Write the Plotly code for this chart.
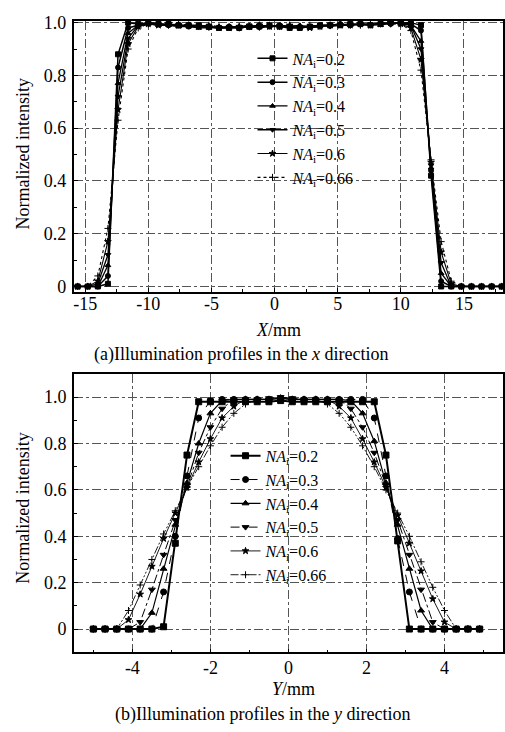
import plotly.graph_objects as go

# ---------------- data ----------------
NA_LABELS = ["0.2", "0.3", "0.4", "0.5", "0.6", "0.66"]

# (a) x direction
X_MM = [-15.6, -14.8, -14.0, -13.2, -12.4, -11.6, -10.8, -10.0, -9.2, -8.4, -7.6, -6.8,
        -6.0, -5.2, -4.4, -3.6, -2.8, -2.0, -1.2, -0.4, 0.4, 1.2, 2.0, 2.8, 3.6, 4.4,
        5.2, 6.0, 6.8, 7.6, 8.4, 9.2, 10.0, 10.8, 11.6, 12.4, 13.2, 14.0, 14.8, 15.6,
        16.4, 17.2, 18.0]

X_NA02 = [0, 0, 0, 0.01, 0.88, 1.0, 0.995, 1.0, 0.995, 0.995, 0.99, 0.99, 0.99, 0.985,
          0.98, 0.98, 0.98, 0.985, 0.985, 0.99, 0.985, 0.98, 0.98, 0.985, 0.99, 0.99,
          0.99, 0.995, 0.995, 0.99, 0.995, 1.0, 1.0, 1.0, 0.99, 0.42, 0.0, 0, 0, 0, 0, 0, 0]
X_NA03 = [0, 0, 0, 0.04, 0.83, 0.98, 0.99, 1.0, 0.995, 0.99, 0.99, 0.985, 0.99, 0.985,
          0.98, 0.985, 0.98, 0.985, 0.99, 0.985, 0.99, 0.985, 0.98, 0.985, 0.99, 0.99,
          0.995, 0.99, 0.995, 0.99, 1.0, 0.995, 1.0, 0.995, 0.97, 0.44, 0.02, 0, 0, 0, 0, 0, 0]
X_NA04 = [0, 0, 0, 0.08, 0.77, 0.96, 0.99, 0.995, 0.99, 0.99, 0.985, 0.985, 0.98, 0.98,
          0.985, 0.98, 0.985, 0.98, 0.985, 0.99, 0.985, 0.985, 0.99, 0.98, 0.985, 0.99,
          0.99, 0.99, 0.995, 0.995, 0.99, 1.0, 0.995, 0.99, 0.93, 0.45, 0.05, 0, 0, 0, 0, 0, 0]
X_NA05 = [0, 0, 0.01, 0.12, 0.72, 0.94, 0.99, 0.995, 0.995, 0.99, 0.99, 0.985, 0.985, 0.98,
          0.98, 0.985, 0.985, 0.99, 0.98, 0.985, 0.99, 0.98, 0.985, 0.985, 0.99, 0.985,
          0.99, 0.995, 0.99, 0.995, 0.995, 0.995, 1.0, 0.99, 0.90, 0.46, 0.09, 0.0, 0, 0, 0, 0, 0]
X_NA06 = [0, 0, 0.02, 0.17, 0.67, 0.92, 0.985, 0.995, 0.99, 0.995, 0.99, 0.99, 0.985, 0.985,
          0.98, 0.98, 0.985, 0.985, 0.99, 0.985, 0.985, 0.99, 0.985, 0.98, 0.985, 0.99,
          0.99, 0.99, 0.995, 0.99, 0.995, 1.0, 0.995, 0.98, 0.86, 0.47, 0.13, 0.01, 0, 0, 0, 0, 0]
X_NA066 = [0, 0, 0.04, 0.22, 0.63, 0.90, 0.98, 0.995, 0.995, 0.99, 0.995, 0.99, 0.985, 0.99,
           0.985, 0.985, 0.98, 0.985, 0.985, 0.99, 0.985, 0.985, 0.985, 0.99, 0.985, 0.99,
           0.995, 0.99, 0.99, 0.995, 0.995, 0.995, 0.995, 0.97, 0.82, 0.48, 0.17, 0.02, 0, 0, 0, 0, 0]

# (b) y direction
Y_MM = [-5.0, -4.7, -4.4, -4.1, -3.8, -3.5, -3.2, -2.9, -2.6, -2.3, -2.0, -1.7, -1.4, -1.1,
        -0.8, -0.5, -0.2, 0.1, 0.4, 0.7, 1.0, 1.3, 1.6, 1.9, 2.2, 2.5, 2.8, 3.1, 3.4, 3.7,
        4.0, 4.3, 4.6, 4.9]

Y_NA02 = [0, 0, 0, 0, 0, 0, 0.01, 0.37, 0.75, 0.98, 0.98, 0.98, 0.98, 0.98, 0.98, 0.98,
          0.985, 0.98, 0.98, 0.98, 0.98, 0.98, 0.98, 0.98, 0.98, 0.75, 0.38, 0.0, 0, 0, 0, 0, 0, 0]
Y_NA03 = [0, 0, 0, 0, 0, 0.0, 0.16, 0.40, 0.66, 0.91, 0.985, 0.99, 0.99, 0.99, 0.99, 0.99,
          0.995, 0.99, 0.99, 0.99, 0.99, 0.99, 0.99, 0.99, 0.91, 0.66, 0.39, 0.16, 0.0, 0, 0, 0, 0, 0]
Y_NA04 = [0, 0, 0, 0, 0.0, 0.07, 0.26, 0.45, 0.63, 0.80, 0.93, 0.985, 0.99, 0.99, 0.99, 0.99,
          0.995, 0.99, 0.99, 0.99, 0.99, 0.99, 0.985, 0.93, 0.81, 0.63, 0.45, 0.26, 0.08, 0.0, 0, 0, 0, 0]
Y_NA05 = [0, 0, 0, 0.0, 0.03, 0.17, 0.32, 0.47, 0.62, 0.76, 0.87, 0.95, 0.99, 0.99, 0.99, 0.995,
          1.0, 0.995, 0.99, 0.99, 0.99, 0.99, 0.95, 0.87, 0.76, 0.62, 0.47, 0.32, 0.17, 0.03, 0.0, 0, 0, 0]
Y_NA06 = [0, 0, 0.0, 0.04, 0.15, 0.27, 0.39, 0.50, 0.61, 0.72, 0.82, 0.91, 0.96, 0.99, 0.99, 0.99,
          0.995, 0.99, 0.99, 0.99, 0.99, 0.96, 0.91, 0.82, 0.72, 0.61, 0.49, 0.37, 0.25, 0.13, 0.03, 0.0, 0, 0]
Y_NA066 = [0, 0, 0.0, 0.08, 0.19, 0.30, 0.41, 0.51, 0.61, 0.70, 0.79, 0.87, 0.93, 0.97, 0.99, 0.99,
           0.995, 0.99, 0.99, 0.99, 0.97, 0.93, 0.87, 0.79, 0.70, 0.60, 0.50, 0.40, 0.29, 0.18, 0.08, 0.0, 0, 0]

X_TICKS_A = [-15, -10, -5, 0, 5, 10, 15]
X_TICKTEXT_A = ["-15", "-10", "-5", "0", "5", "10", "15"]
X_TICKS_B = [-4, -2, 0, 2, 4]
X_TICKTEXT_B = ["-4", "-2", "0", "2", "4"]
Y_TICKS = [0, 0.2, 0.4, 0.6, 0.8, 1.0]
Y_TICKTEXT = ["0", "0.2", "0.4", "0.6", "0.8", "1.0"]

# ---------------- styles ----------------
FONT = "Liberation Serif"
W, H = 505, 732

series_a = [X_NA02, X_NA03, X_NA04, X_NA05, X_NA06, X_NA066]
series_b = [Y_NA02, Y_NA03, Y_NA04, Y_NA05, Y_NA06, Y_NA066]

style_a = [
    dict(dash="solid", width=1.5, symbol="square", size=5),
    dict(dash="solid", width=1.5, symbol="circle", size=5),
    dict(dash="solid", width=1.3, symbol="triangle-up", size=5),
    dict(dash="solid", width=1.3, symbol="triangle-down", size=5),
    dict(dash="solid", width=1.1, symbol="star", size=5),
    dict(dash="dot", width=1.1, symbol="cross-thin", size=5),
]
style_b = [
    dict(dash="solid", width=2.0, symbol="square", size=6),
    dict(dash="dash", width=1.0, symbol="circle", size=6),
    dict(dash="solid", width=1.2, symbol="triangle-up", size=6),
    dict(dash="dashdot", width=1.0, symbol="triangle-down", size=6),
    dict(dash="solid", width=0.9, symbol="star", size=5),
    dict(dash="8px,2px,2px,2px,2px,2px", width=0.9, symbol="cross-thin", size=5),
]

fig = go.Figure()

def label(na):
    return "<i>NA</i><sub>i</sub>=" + na

for na, ys, st in zip(NA_LABELS, series_a, style_a):
    fig.add_trace(go.Scatter(
        x=X_MM, y=ys, mode="lines+markers", name=label(na),
        line=dict(color="black", width=st["width"], dash=st["dash"]),
        marker=dict(color="black", symbol=st["symbol"], size=st["size"],
                    line=dict(color="black", width=1)),
        xaxis="x", yaxis="y", legend="legend"))

for na, ys, st in zip(NA_LABELS, series_b, style_b):
    fig.add_trace(go.Scatter(
        x=Y_MM, y=ys, mode="lines+markers", name=label(na),
        line=dict(color="black", width=st["width"], dash=st["dash"]),
        marker=dict(color="black", symbol=st["symbol"], size=st["size"],
                    line=dict(color="black", width=1)),
        xaxis="x2", yaxis="y2", legend="legend2"))

xdom = [73 / W, 503 / W]
ydom_a = [1 - 289 / H, 1 - 13 / H]
ydom_b = [1 - 655 / H, 1 - 372 / H]

grid = dict(showgrid=True, gridcolor="#555555", griddash="dashdot", gridwidth=1)
axis_common = dict(showline=True, mirror=True, linecolor="black", ticks="inside",
                   ticklen=4, tickcolor="black", zeroline=False,
                   tickfont=dict(family=FONT, size=18, color="black"), **grid)

fig.update_layout(
    width=W, height=H, margin=dict(l=0, r=0, t=0, b=0),
    paper_bgcolor="white", plot_bgcolor="white",
    font=dict(family=FONT, color="black", size=18),
    xaxis=dict(domain=xdom, anchor="y", range=[-15.9, 18.1], tickmode="array",
               tickvals=X_TICKS_A, ticktext=X_TICKTEXT_A, linewidth=2,
               ticklabelstandoff=-6,
               minor=dict(ticks="inside", dtick=2.5, tick0=0, ticklen=3, tickcolor="black", showgrid=False),
               **axis_common),
    yaxis=dict(domain=ydom_a, anchor="x", range=[-0.022, 1.007], tickmode="array",
               tickvals=Y_TICKS, ticktext=Y_TICKTEXT, linewidth=2,
               ticklabelstandoff=2,
               minor=dict(ticks="inside", dtick=0.1, tick0=0, ticklen=3, tickcolor="black", showgrid=False),
               **axis_common),
    xaxis2=dict(domain=xdom, anchor="y2", range=[-5.5, 5.5], tickmode="array",
                tickvals=X_TICKS_B, ticktext=X_TICKTEXT_B, linewidth=1.5,
                ticklabelstandoff=-2,
                minor=dict(ticks="inside", dtick=1, tick0=0, ticklen=3, tickcolor="black", showgrid=False),
                **axis_common),
    yaxis2=dict(domain=ydom_b, anchor="x2", range=[-0.1, 1.1], tickmode="array",
                tickvals=Y_TICKS, ticktext=Y_TICKTEXT, linewidth=1.5,
                ticklabelstandoff=2,
                minor=dict(ticks="inside", dtick=0.1, tick0=0, ticklen=3, tickcolor="black", showgrid=False),
                **axis_common),
    legend=dict(x=252 / W, y=1 - 34 / H, xanchor="left", yanchor="top",
                bgcolor="rgba(255,255,255,0)", borderwidth=0,
                font=dict(family=FONT, size=16, color="black"), tracegroupgap=0),
    legend2=dict(x=225 / W, y=1 - 438 / H, xanchor="left", yanchor="top",
                 bgcolor="rgba(255,255,255,0)", borderwidth=0,
                 font=dict(family=FONT, size=16, color="black"), tracegroupgap=0),
    showlegend=True,
)

annots = [
    dict(text="Normalized intensity", x=22 / W, y=1 - 148 / H, textangle=-90, size=18),
    dict(text="<i>X</i>/mm", x=278 / W, y=1 - 327 / H, textangle=0, size=18),
    dict(text="(a)Illumination profiles in the <i>x</i> direction", x=240 / W, y=1 - 352 / H, textangle=0, size=18),
    dict(text="Normalized intensity", x=22 / W, y=1 - 508 / H, textangle=-90, size=18),
    dict(text="<i>Y</i>/mm", x=293 / W, y=1 - 692 / H, textangle=0, size=18),
    dict(text="(b)Illumination profiles in the <i>y</i> direction", x=262 / W, y=1 - 718 / H, textangle=0, size=18),
]
for a in annots:
    fig.add_annotation(text=a["text"], x=a["x"], y=a["y"], xref="paper", yref="paper",
                       xanchor="center", yanchor="middle", showarrow=False,
                       textangle=a["textangle"],
                       font=dict(family=FONT, size=a["size"], color="black"))

fig.write_html("out.html")
